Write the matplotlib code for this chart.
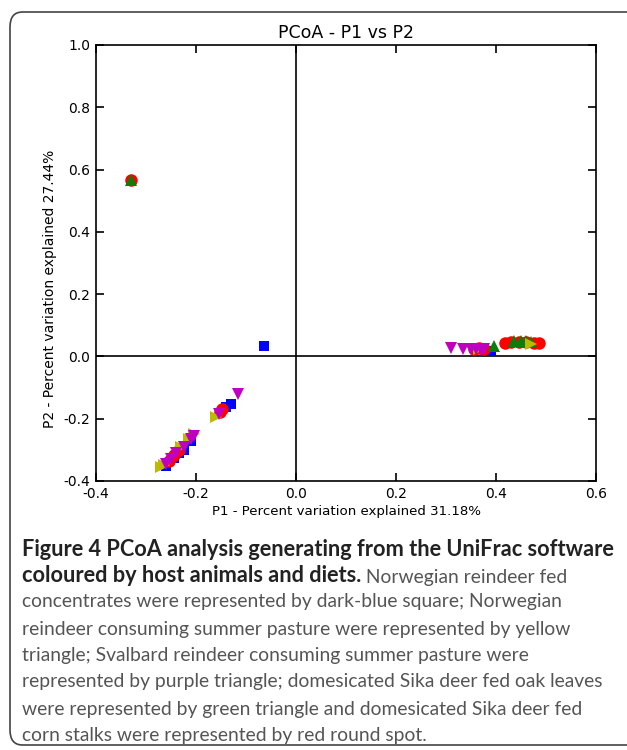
import matplotlib.pyplot as plt
from matplotlib.patches import FancyBboxPatch

# PCoA coordinates, one group per host/diet
blue_x = [-0.065, 0.39, -0.13, -0.14, -0.26, -0.21, -0.225, -0.245, -0.235]
blue_y = [0.033, 0.017, -0.152, -0.163, -0.352, -0.27, -0.30, -0.325, -0.31]

red_x = [-0.33, 0.355, 0.365, 0.375, 0.417, 0.43, 0.445, 0.46, 0.475, 0.485,
         -0.148, -0.152, -0.245, -0.235, -0.255]
red_y = [0.565, 0.025, 0.028, 0.025, 0.043, 0.045, 0.046, 0.045, 0.044, 0.042,
         -0.17, -0.178, -0.315, -0.30, -0.335]

green_x = [-0.33, 0.395, 0.435, 0.45, 0.46, 0.47]
green_y = [0.568, 0.032, 0.048, 0.05, 0.049, 0.047]

yellow_x = [0.365, 0.47, -0.16, -0.27, -0.265, -0.205, -0.215, -0.23]
yellow_y = [0.024, 0.041, -0.195, -0.355, -0.35, -0.25, -0.265, -0.29]

purple_x = [0.31, 0.333, 0.35, 0.36, 0.37, 0.375,
            -0.117, -0.155, -0.25, -0.24, -0.225, -0.21, -0.205, -0.26]
purple_y = [0.027, 0.025, 0.024, 0.023, 0.022, 0.024,
            -0.12, -0.185, -0.33, -0.31, -0.29, -0.265, -0.255, -0.345]

x_ticks = [-0.4, -0.2, 0.0, 0.2, 0.4, 0.6]
y_ticks = [-0.4, -0.2, 0.0, 0.2, 0.4, 0.6, 0.8, 1.0]

caption_bold = ["Figure 4 PCoA analysis generating from the UniFrac software",
                "coloured by host animals and diets."]
caption_lines = [
    " Norwegian reindeer fed",
    "concentrates were represented by dark-blue square; Norwegian",
    "reindeer consuming summer pasture were represented by yellow",
    "triangle; Svalbard reindeer consuming summer pasture were",
    "represented by purple triangle; domesicated Sika deer fed oak leaves",
    "were represented by green triangle and domesicated Sika deer fed",
    "corn stalks were represented by red round spot.",
]

W, H = 627, 750
fig = plt.figure(figsize=(W / 100, H / 100), dpi=100)

# rounded frame around figure + caption
frame = FancyBboxPatch((10 / W, 5 / H), 1.2, (H - 17) / H,
                       boxstyle="round,pad=0,rounding_size=0.02",
                       transform=fig.transFigure, fill=False,
                       edgecolor="#444444", linewidth=1.2)
fig.patches.append(frame)

ax = fig.add_axes([96 / W, 1 - 481 / H, 500 / W, 436 / H])
font = "DejaVu Sans"

ax.axhline(0, color="black", lw=1.2, zorder=1)
ax.axvline(0, color="black", lw=1.2, zorder=1)

ax.plot(blue_x, blue_y, "s", color="#0000ff", ms=6.5, mew=0, zorder=2)
ax.plot(red_x, red_y, "o", color="#ff0000", ms=9, mew=0, zorder=3)
ax.plot(green_x, green_y, "^", color="#0a7d0a", ms=9, mew=0, zorder=4)
ax.plot(yellow_x, yellow_y, ">", color="#bdb800", ms=9, mew=0, zorder=5)
ax.plot(purple_x, purple_y, "v", color="#c000c0", ms=9, mew=0, zorder=6)

ax.set_xlim(-0.4, 0.6)
ax.set_ylim(-0.4, 1.0)
ax.set_xticks(x_ticks)
ax.set_yticks(y_ticks)
ax.set_xticklabels([f"{v:.1f}" for v in x_ticks], fontfamily=font, fontsize=10)
ax.set_yticklabels([f"{v:.1f}" for v in y_ticks], fontfamily=font, fontsize=10)
ax.tick_params(direction="in", top=True, right=True, length=6, width=1.2, pad=4)
for sp in ax.spines.values():
    sp.set_linewidth(1.2)

ax.set_title("PCoA - P1 vs P2", fontfamily=font, fontsize=12.5, pad=5)
ax.set_xlabel("P1 - Percent variation explained 31.18%", fontfamily=font,
              fontsize=9.6, labelpad=3)
ax.set_ylabel("P2 - Percent variation explained 27.44%", fontfamily=font,
              fontsize=10)
ax.yaxis.set_label_coords(-39 / 500, 0.44)

# caption: two bold lines, the rest regular grey
cap_font = "Lato"
x0 = 22 / W
line_y = [549, 576, 602, 629, 655, 682, 709, 735]
fig.text(x0, 1 - line_y[0] / H, caption_bold[0], fontfamily=cap_font,
         fontweight="bold", fontsize=15.7, color="#222222", va="center")
b2 = fig.text(x0, 1 - line_y[1] / H, caption_bold[1], fontfamily=cap_font,
              fontweight="bold", fontsize=15.7, color="#222222", va="center")
ax.annotate(caption_lines[0], xy=(1, 0), xycoords=b2, va="bottom",
            fontfamily=cap_font, fontsize=13.9, color="#555555",
            annotation_clip=False)
for i, line in enumerate(caption_lines[1:]):
    fig.text(x0, 1 - line_y[i + 2] / H, line, fontfamily=cap_font,
             fontsize=13.9, color="#555555", va="center")

fig.savefig("out.png", dpi=100)
